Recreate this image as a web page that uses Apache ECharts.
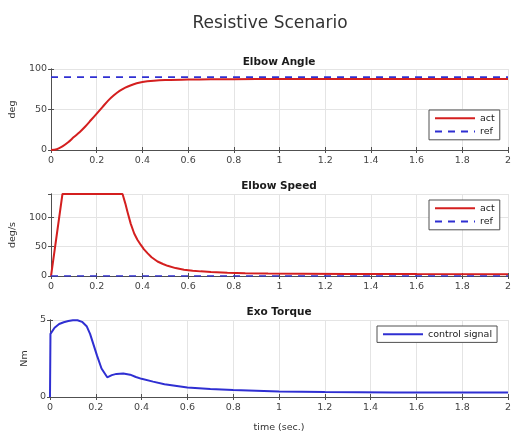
<!DOCTYPE html>
<html>
<head>
<meta charset="utf-8">
<script src="https://cdn.jsdelivr.net/npm/echarts@6/dist/echarts.min.js"></script>
<style>
html,body{margin:0;padding:0;background:#fff;}
#chart{width:514px;height:434px;}
</style>
</head>
<body>
<div id="chart"></div>
<script>
// ---- data ----
const angleTime = [0, 0.025, 0.05, 0.075, 0.1, 0.125, 0.15, 0.175, 0.2, 0.225, 0.25, 0.275, 0.3, 0.325, 0.35, 0.375, 0.4, 0.45, 0.5, 0.6, 0.7, 0.8, 1.0, 1.2, 1.5, 2.0];
const angleAct = [0, 1, 4.5, 9.5, 16, 22, 29, 37, 45, 53, 61, 67.5, 73, 77, 80, 82.3, 84, 85.5, 86.3, 87, 87.3, 87.5, 87.6, 87.7, 87.7, 87.7];
const angleRefTime = [0, 2];
const angleRef = [90, 90];

const speedTime = [0, 0.05, 0.313, 0.325, 0.335, 0.349, 0.364, 0.378, 0.393, 0.407, 0.422, 0.44, 0.466, 0.49, 0.51, 0.545, 0.582, 0.62, 0.655, 0.7, 0.772, 0.85, 0.95, 1.1, 1.3, 1.6, 2.0];
const speedAct = [0, 140, 140, 124, 109, 89, 72.5, 62, 53, 45.5, 39, 32, 24.7, 20.5, 17.4, 13.5, 10.7, 9, 7.9, 6.8, 5.6, 4.8, 4.2, 3.8, 3.5, 3.3, 3.2];
const speedRefTime = [0, 2];
const speedRef = [0, 0];

const torqueTime = [0, 0.002, 0.02, 0.04, 0.06, 0.08, 0.1, 0.12, 0.14, 0.16, 0.175, 0.19, 0.205, 0.225, 0.25, 0.27, 0.29, 0.32, 0.35, 0.375, 0.4, 0.45, 0.5, 0.6, 0.7, 0.8, 1.0, 1.2, 1.5, 2.0];
const torqueCtl = [0, 4.1, 4.5, 4.74, 4.85, 4.93, 4.98, 4.98, 4.88, 4.6, 4.1, 3.4, 2.7, 1.85, 1.28, 1.42, 1.5, 1.53, 1.45, 1.3, 1.18, 1.0, 0.83, 0.62, 0.52, 0.46, 0.36, 0.32, 0.3, 0.29];

const mainTitle = 'Resistive Scenario';
const panelTitles = ['Elbow Angle', 'Elbow Speed', 'Exo Torque'];
const yNames = ['deg', 'deg/s', 'Nm'];
const xName = 'time (sec.)';

// ---- build ----
const zip = (t, v) => t.map((x, i) => [x, v[i]]);
const FONT = 'DejaVu Sans';
const RED = '#d41f1f';
const BLUE = '#2f2fd2';
const BOX = '#505050';

const grids = [
  {left: 50, top: 69, width: 458, height: 81},
  {left: 50, top: 194, width: 458, height: 82},
  {left: 50, top: 320, width: 458, height: 81}
];
const yCfg = [
  {max: 100, interval: 50, nameGap: 28},
  {max: 140, interval: 50, nameGap: 28},
  {max: 5, interval: 5, nameGap: 12}
];

const xAxes = [], yAxes = [];
grids.forEach((g, i) => {
  xAxes.push({
    type: 'value', gridIndex: i, min: 0, max: 2, interval: 0.2, position: 'bottom',
    axisLine: {show: true, lineStyle: {color: BOX, width: 1}},
    axisTick: {show: true, inside: true, length: 3, lineStyle: {color: BOX}},
    axisLabel: {show: true, margin: 6, color: '#444', fontFamily: FONT, fontSize: 9.5},
    splitLine: {show: true, lineStyle: {color: '#e4e4e4', width: 1}},
    name: i === 2 ? xName : '', nameLocation: 'middle', nameGap: 26,
    nameTextStyle: {color: '#333', fontFamily: FONT, fontSize: 9.5}
  });
  xAxes.push({
    type: 'value', gridIndex: i, min: 0, max: 2, interval: 0.2, position: 'top',
    axisLine: {show: true, lineStyle: {color: BOX, width: 1}},
    axisTick: {show: true, inside: true, length: 3, lineStyle: {color: BOX}},
    axisLabel: {show: false}, splitLine: {show: false}
  });
  const c = yCfg[i];
  yAxes.push({
    type: 'value', gridIndex: i, min: 0, max: c.max, interval: c.interval, position: 'left',
    axisLine: {show: true, lineStyle: {color: BOX, width: 1}},
    axisTick: {show: true, inside: true, length: 3, lineStyle: {color: BOX}},
    axisLabel: {show: true, margin: 4, color: '#444', fontFamily: FONT, fontSize: 9.5,
      showMaxLabel: i === 1 ? false : true},
    splitLine: {show: true, lineStyle: {color: '#e4e4e4', width: 1}},
    name: yNames[i], nameLocation: 'middle', nameGap: c.nameGap, nameRotate: 90,
    nameTextStyle: {color: '#333', fontFamily: FONT, fontSize: 9.5}
  });
  yAxes.push({
    type: 'value', gridIndex: i, min: 0, max: c.max, interval: c.interval, position: 'right',
    axisLine: {show: true, lineStyle: {color: BOX, width: 1}},
    axisTick: {show: true, inside: true, length: 3, lineStyle: {color: BOX}},
    axisLabel: {show: false}, splitLine: {show: false}
  });
});

const lineBase = {type: 'line', showSymbol: false, symbol: 'none', legendIcon: 'none', animation: false};
const series = [
  Object.assign({}, lineBase, {name: 'act', xAxisIndex: 0, yAxisIndex: 0, smooth: 0.3, z: 3,
    data: zip(angleTime, angleAct), lineStyle: {color: RED, width: 2}, itemStyle: {color: RED}}),
  Object.assign({}, lineBase, {name: 'ref', xAxisIndex: 0, yAxisIndex: 0, z: 4,
    data: zip(angleRefTime, angleRef), lineStyle: {color: BLUE, width: 1.6, type: [7, 6]}, itemStyle: {color: BLUE}}),
  Object.assign({}, lineBase, {name: 'act', xAxisIndex: 2, yAxisIndex: 2, z: 3,
    data: zip(speedTime, speedAct), lineStyle: {color: RED, width: 2}, itemStyle: {color: RED}}),
  Object.assign({}, lineBase, {name: 'ref', xAxisIndex: 2, yAxisIndex: 2, z: 4,
    data: zip(speedRefTime, speedRef), lineStyle: {color: BLUE, width: 1.6, type: [7, 6]}, itemStyle: {color: BLUE}}),
  Object.assign({}, lineBase, {name: 'control signal', xAxisIndex: 4, yAxisIndex: 4, z: 3,
    data: zip(torqueTime, torqueCtl), lineStyle: {color: BLUE, width: 2}, itemStyle: {color: BLUE}})
];

const legendBase = {
  orient: 'vertical', itemWidth: 40, itemHeight: 13, itemGap: 3, padding: [3, 5],
  backgroundColor: '#fff', borderColor: BOX, borderWidth: 1, borderRadius: 0,
  itemStyle: {opacity: 0},
  textStyle: {color: '#222', fontFamily: FONT, fontSize: 9.5}, selectedMode: false
};
const legends = [
  Object.assign({}, legendBase, {data: ['act', 'ref'], left: 429, top: 110}),
  Object.assign({}, legendBase, {data: ['act', 'ref'], left: 429, top: 200}),
  Object.assign({}, legendBase, {data: ['control signal'], left: 377, top: 326})
];

const titles = [
  {text: mainTitle, left: 270, top: 15, textAlign: 'center',
    textStyle: {color: '#333', fontFamily: FONT, fontSize: 17, fontWeight: 'normal'}},
  {text: panelTitles[0], left: 279, top: 57, textAlign: 'center',
    textStyle: {color: '#1a1a1a', fontFamily: FONT, fontSize: 10.5, fontWeight: 'bold'}},
  {text: panelTitles[1], left: 279, top: 181, textAlign: 'center',
    textStyle: {color: '#1a1a1a', fontFamily: FONT, fontSize: 10.5, fontWeight: 'bold'}},
  {text: panelTitles[2], left: 279, top: 307, textAlign: 'center',
    textStyle: {color: '#1a1a1a', fontFamily: FONT, fontSize: 10.5, fontWeight: 'bold'}}
];
titles.forEach(t => { t.padding = 0; t.itemGap = 0; });

const chart = echarts.init(document.getElementById('chart'), null, {renderer: 'canvas'});
chart.setOption({
  backgroundColor: '#fff',
  animation: false,
  title: titles,
  legend: legends,
  grid: grids,
  xAxis: xAxes,
  yAxis: yAxes,
  series: series
});
</script>
</body>
</html>
